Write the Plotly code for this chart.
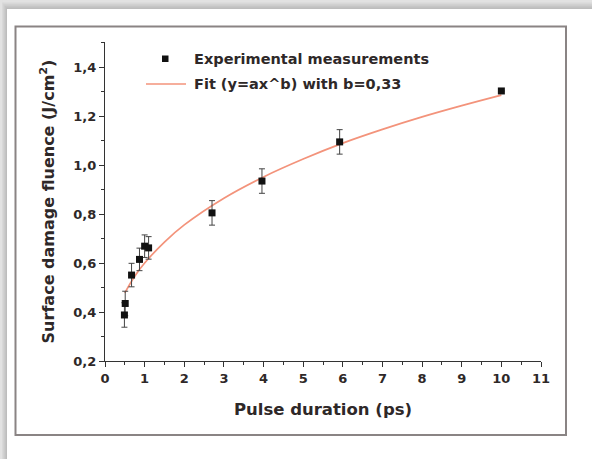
import plotly.graph_objects as go

# Data
pulse_ps = [0.49, 0.51, 0.67, 0.87, 1.0, 1.1, 2.7, 3.96, 5.92, 10.0]
fluence = [0.388, 0.435, 0.551, 0.615, 0.669, 0.662, 0.805, 0.935, 1.095, 1.303]
fluence_err = [0.05, 0.05, 0.048, 0.046, 0.046, 0.046, 0.05, 0.05, 0.05, 0.0]

fit_x = [0.5, 0.75, 1, 1.5, 2, 3, 4, 5, 6, 7, 8, 9, 10]
fit_y = [0.478, 0.546, 0.600, 0.686, 0.756, 0.865, 0.952, 1.025, 1.090, 1.146, 1.197, 1.243, 1.286]

x_ticks = list(range(0, 12))
y_ticks = [0.2, 0.4, 0.6, 0.8, 1.0, 1.2, 1.4]
y_tick_text = ["0,2", "0,4", "0,6", "0,8", "1,0", "1,2", "1,4"]

W, H = 592, 459
L, R, T, B = 105, 541, 42, 361
pw, ph = R - L, B - T


def px(x):
    return (x - L) / pw


def py(y):
    return (B - y) / ph


FONT = "DejaVu Sans, Liberation Sans, sans-serif"
TXT = "#2e2828"

fig = go.Figure()
fig.add_trace(go.Scatter(
    x=fit_x, y=fit_y, mode="lines", line=dict(color="#f3937b", width=1.7, shape="spline"),
    showlegend=False, hoverinfo="skip"))
fig.add_trace(go.Scatter(
    x=pulse_ps, y=fluence, mode="markers",
    marker=dict(symbol="square", size=7, color="#111111"),
    error_y=dict(type="data", array=fluence_err, visible=True, color="#444444", thickness=1, width=3),
    showlegend=False))

fig.update_layout(
    width=W, height=H,
    margin=dict(l=L, r=W - R, t=T, b=H - B),
    paper_bgcolor="white", plot_bgcolor="white",
    font=dict(family=FONT, color=TXT),
    xaxis=dict(range=[0, 11], tickvals=x_ticks, ticks="outside", ticklen=5, tickwidth=1.2,
               tickcolor="#333", showline=True, linecolor="#333", linewidth=1.2,
               showgrid=False, zeroline=False,
               tickfont=dict(size=13, family=FONT, color=TXT, weight="bold"),
               minor=dict(dtick=0.5, ticks="outside", ticklen=3, tickcolor="#333", tickwidth=1),
               title=dict(text="<b>Pulse duration (ps)</b>", font=dict(size=16.5, family=FONT, color=TXT),
                          standoff=18)),
    yaxis=dict(range=[0.2, 1.503], tickvals=y_ticks, ticktext=y_tick_text, ticks="outside",
               ticklen=5, tickwidth=1.2, tickcolor="#333", showline=True, linecolor="#333",
               linewidth=1.2, showgrid=False, zeroline=False,
               tickfont=dict(size=13, family=FONT, color=TXT, weight="bold"),
               minor=dict(dtick=0.1, ticks="outside", ticklen=3, tickcolor="#333", tickwidth=1),
               title=dict(text="<b>Surface damage fluence (J/cm<sup>2</sup>)</b>",
                          font=dict(size=16, family=FONT, color=TXT), standoff=14)),
)

shapes = []
# outer grey shadow bands
for i, c in enumerate(["#bdbdbd", "#c6c6c6", "#cfcfcf", "#d8d8d8", "#e2e2e2"]):
    shapes.append(dict(type="rect", xref="paper", yref="paper",
                       x0=px(0), x1=px(W), y0=py(0), y1=py(9 - i * 1.6),
                       fillcolor=c, line=dict(width=0), layer="below"))
    shapes.append(dict(type="rect", xref="paper", yref="paper",
                       x0=px(0), x1=px(7 - i * 1.2), y0=py(0), y1=py(H),
                       fillcolor=c, line=dict(width=0), layer="below"))
# inner frame
shapes.append(dict(type="rect", xref="paper", yref="paper",
                   x0=px(15.5), x1=px(566), y0=py(26.5), y1=py(435),
                   line=dict(color="#8a8484", width=2), fillcolor="rgba(0,0,0,0)", layer="below"))
# legend samples
shapes.append(dict(type="line", xref="paper", yref="paper",
                   x0=px(146), x1=px(186), y0=py(84), y1=py(84),
                   line=dict(color="#f3937b", width=1.7)))
shapes.append(dict(type="rect", xref="paper", yref="paper",
                   x0=px(162), x1=px(168.5), y0=py(55.5), y1=py(62),
                   fillcolor="#111111", line=dict(width=0)))
fig.update_layout(shapes=shapes)

fig.add_annotation(xref="paper", yref="paper", x=px(192), y=py(59), xanchor="left", yanchor="middle",
                   text="<b>Experimental measurements</b>", showarrow=False,
                   font=dict(size=14.5, family=FONT, color=TXT))
fig.add_annotation(xref="paper", yref="paper", x=px(192), y=py(84), xanchor="left", yanchor="middle",
                   text="<b>Fit (y=ax^b) with b=0,33</b>", showarrow=False,
                   font=dict(size=14.5, family=FONT, color=TXT))

fig.write_html("out.html")
